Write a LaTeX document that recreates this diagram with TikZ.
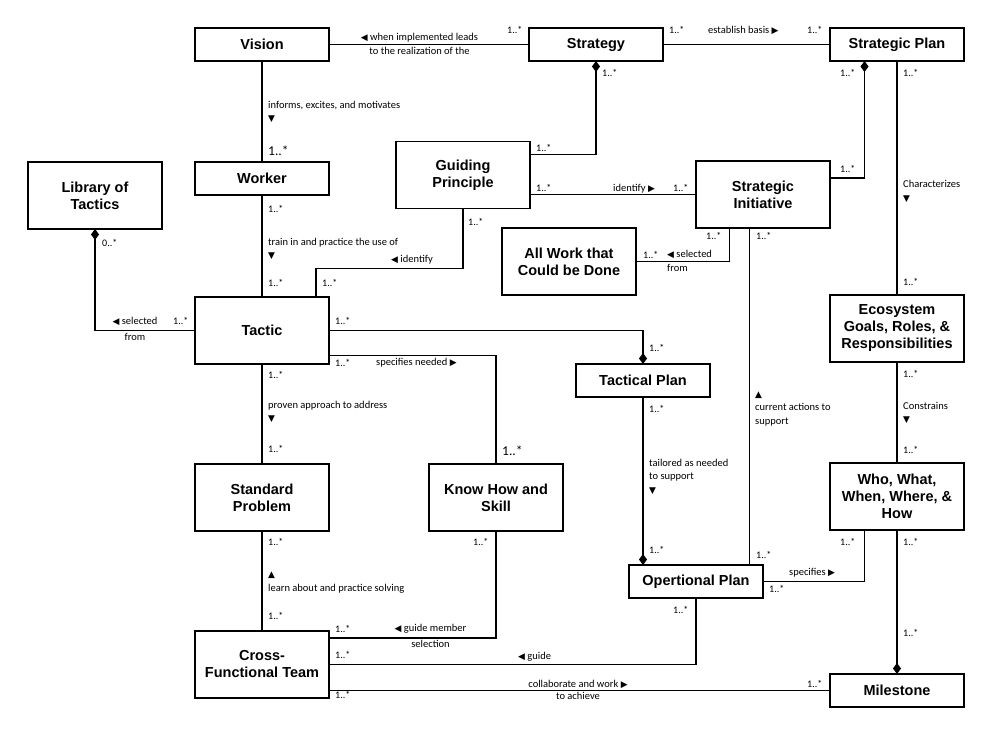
\documentclass[tikz,border=0pt]{standalone}
\usepackage{fontspec}
\setmainfont{Liberation Sans}
\newfontfamily\relfont{Carlito}
\newfontfamily\symfont{DejaVu Sans}[Scale=0.85]
\newcommand{\tri}[1]{{\symfont #1}}
\usetikzlibrary{positioning,arrows.meta}
\tikzset{
  box/.style={draw, line width=1.1pt, minimum width=134pt, minimum height=33pt, inner sep=2pt, outer sep=0pt, align=center, font=\fontsize{14.5}{17}\selectfont\bfseries},
  tallbox/.style={box, minimum height=67pt},
  mult/.style={inner sep=0pt, anchor=base west, font=\relfont\fontsize{10}{12}\selectfont},
  bigmult/.style={mult, font=\relfont\fontsize{13.5}{15}\selectfont},
  rel/.style={inner sep=0pt, anchor=base west, align=left, font=\relfont\fontsize{10.5}{13.5}\selectfont},
  link/.style={line width=1.1pt},
  whole/.style={link, arrows={Diamond[length=11pt,width=8pt]-}},
  wholeend/.style={link, arrows={-Diamond[length=11pt,width=8pt]}}
}
\begin{document}
\begin{tikzpicture}[x=1pt, y=-1pt]
\useasboundingbox (0,0) rectangle (993,733);
\node[box] (vision) at (262,44.5) {Vision};
\node[box, right=200pt of vision] (strategy) {Strategy};
\node[box, right=167pt of strategy] (splan) {Strategic Plan};
\node[box, below=101pt of vision] (worker) {Worker};
\node[tallbox, below left=0pt and 33pt of worker.north west] (library) {Library of\\Tactics};
\node[tallbox, right=67pt of worker, yshift=3.5pt] (guide) {Guiding\\Principle};
\node[tallbox, below left=100pt and 0pt of splan] (initiative) {Strategic\\Initiative};
\node[tallbox, below left=0pt and 60pt of initiative] (allwork) {All Work that\\Could be Done};
\node[tallbox, below=102pt of worker] (tactic) {Tactic};
\node[box, below right=0pt and 247pt of tactic] (tplan) {Tactical Plan};
\node[tallbox, below=234pt of splan] (eco) {Ecosystem\\Goals, Roles, \&\\Responsibilities};
\node[tallbox, below=100pt of tactic] (problem) {Standard\\Problem};
\node[tallbox, right=100pt of problem] (knowhow) {Know How and\\Skill};
\node[tallbox, below=101pt of eco] (who) {Who, What,\\When, Where, \&\\How};
\node[box, below=168pt of tplan, xshift=53pt] (oplan) {Opertional Plan};
\node[tallbox, below=100pt of problem] (team) {Cross-\\Functional Team};
\node[box, below=144pt of who] (milestone) {Milestone};

\draw[link] (vision) -- (strategy);
\draw[link] (strategy) -- (splan);
\draw[link] (vision) -- (worker);
\draw[whole] (strategy.south) |- ([yshift=20.5pt]guide.east);
\draw[whole] ([xshift=-32.5pt]splan.south) |- ([yshift=16.5pt]initiative.east);
\draw[link] (splan) -- (eco);
\draw[link] (guide.east |- initiative.west) -- (initiative.west);
\draw[link] (worker) -- (tactic);
\draw[link] (guide.south) -- ++(0,60) -| ([xshift=54pt]tactic.north);
\draw[whole] (library.south) |- (tactic.west);
\draw[link] ([xshift=-33.5pt]initiative.south) |- (allwork.east);
\draw[link] ([xshift=-13.5pt]initiative.south) -- ([xshift=-13.5pt]initiative.south |- oplan.north);
\draw[wholeend] (tactic.east) -| (tplan.north);
\draw[link] ([yshift=-25pt]tactic.east) -| (knowhow.north);
\draw[link] (tactic) -- (problem);
\draw[wholeend] (tplan.south) -- (tplan.south |- oplan.north);
\draw[link] (eco) -- (who);
\draw[link] (problem) -- (team);
\draw[link] (knowhow.south) |- ([yshift=26.5pt]team.east);
\draw[link] (oplan.south) |- (team.east);
\draw[link] (team.east |- milestone.west) -- (milestone.west);
\draw[link] (oplan.east) -| ([xshift=-32.5pt]who.south);
\draw[wholeend] (who) -- (milestone);

\node[rel, anchor=base, align=center] (r1) at (419.5,54.5) {\tri{◀} when implemented leads\\to the realization of the};
\node[mult] (m1) at (507,34) {1..*};
\node[mult] (m2) at (669,34) {1..*};
\node[rel] (r2) at (708,34) {establish basis \tri{▶}};
\node[mult] (m3) at (807,34) {1..*};
\node[rel] (r5) at (268,122) {informs, excites, and motivates\\\tri{▼}};
\node[bigmult] (m11) at (268,155) {1..*};
\node[mult] (m4) at (602,77) {1..*};
\node[mult] (m5) at (536,152) {1..*};
\node[mult] (m6) at (840,77) {1..*};
\node[mult] (m8) at (840,172) {1..*};
\node[mult] (m7) at (903,77) {1..*};
\node[rel] (r3) at (903,201) {Characterizes\\\tri{▼}};
\node[mult] (m24) at (903,285) {1..*};
\node[mult] (m9) at (536,191) {1..*};
\node[rel] (r4) at (613,191) {identify \tri{▶}};
\node[mult] (m10) at (673,191) {1..*};
\node[mult] (m12) at (268,212) {1..*};
\node[rel] (r6) at (268,258.5) {train in and practice the use of\\\tri{▼}};
\node[mult] (m13) at (268,286) {1..*};
\node[mult] (m14) at (468,225) {1..*};
\node[rel] (r7) at (391,262) {\tri{◀} identify};
\node[mult] (m15) at (322,286) {1..*};
\node[mult] (m16) at (102,246) {0..*};
\node[rel, anchor=base, align=center] (r8) at (135,340.5) {\tri{◀} selected\\[3pt]from};
\node[mult] (m17) at (173,324) {1..*};
\node[mult] (m21) at (706,239) {1..*};
\node[mult] (m23) at (643,258) {1..*};
\node[rel] (r10) at (667,271) {\tri{◀} selected\\from};
\node[mult] (m22) at (756,239) {1..*};
\node[rel] (r12) at (755,424) {\tri{▲}\\current actions to\\support};
\node[mult] (m34) at (756,558) {1..*};
\node[mult] (m18) at (335,324) {1..*};
\node[mult] (m25) at (649,351) {1..*};
\node[mult] (m19) at (335,366) {1..*};
\node[rel] (r9) at (376,365) {specifies needed \tri{▶}};
\node[bigmult] (m28) at (502,455) {1..*};
\node[mult] (m20) at (268,378) {1..*};
\node[rel] (r11) at (268,421.5) {proven approach to address\\\tri{▼}};
\node[mult] (m27) at (268,452) {1..*};
\node[mult] (m29) at (649,412) {1..*};
\node[rel] (r14) at (649,493) {tailored as needed\\to support\\\tri{▼}};
\node[mult] (m33) at (649,553) {1..*};
\node[mult] (m26) at (903,377) {1..*};
\node[rel] (r13) at (903,422.5) {Constrains\\\tri{▼}};
\node[mult] (m30) at (903,453) {1..*};
\node[mult] (m31) at (268,545) {1..*};
\node[rel] (r15) at (268,591) {\tri{▲}\\learn about and practice solving};
\node[mult] (m37) at (268,619) {1..*};
\node[mult] (m32) at (473,545) {1..*};
\node[mult] (m38) at (335,632) {1..*};
\node[rel, anchor=base, align=center] (r16) at (430.5,647.5) {\tri{◀} guide member\\[3pt]selection};
\node[mult] (m42) at (673,613) {1..*};
\node[mult] (m39) at (335,658) {1..*};
\node[rel] (r18) at (518,659) {\tri{◀} guide};
\node[mult] (m40) at (335,698) {1..*};
\node[rel, anchor=base, align=center] (r19) at (578,699.5) {collaborate and work \tri{▶}\\[-1pt]to achieve};
\node[mult] (m43) at (807,687) {1..*};
\node[mult] (m35) at (840,545) {1..*};
\node[mult] (m36) at (903,545) {1..*};
\node[rel] (r17) at (789,575) {specifies \tri{▶}};
\node[mult] (m41) at (769,592) {1..*};
\node[mult] (m44) at (903,636) {1..*};
\end{tikzpicture}
\end{document}
